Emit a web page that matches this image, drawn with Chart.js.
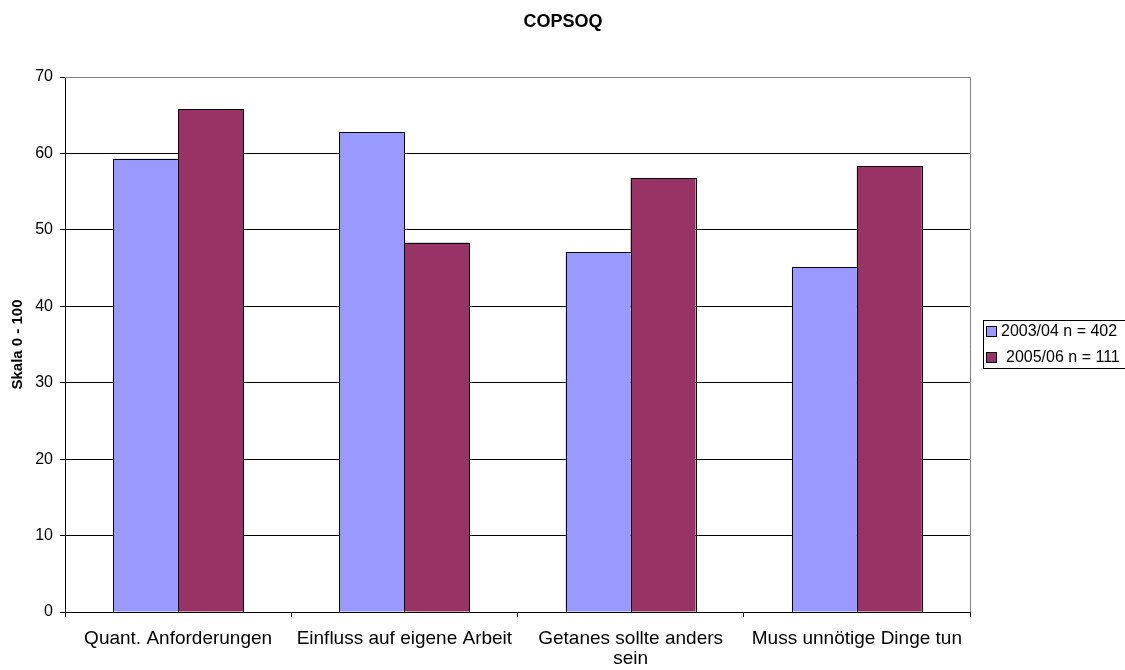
<!DOCTYPE html>
<html>
<head>
<meta charset="utf-8">
<script src="https://cdn.jsdelivr.net/npm/chart.js@4/dist/chart.umd.min.js"></script>
<style>
  html, body { margin: 0; padding: 0; background: #ffffff; }
  #wrap { width: 1125px; height: 670px; position: relative; }
</style>
</head>
<body>
<div id="wrap"><canvas id="c" width="1125" height="670"></canvas></div>
<script>
// COPSOQ scale values (0 - 100) per survey wave
const categories = [
  'Quant. Anforderungen',
  'Einfluss auf eigene Arbeit',
  ['Getanes sollte anders', 'sein'],
  'Muss unnötige Dinge tun'
];
const seriesNames = ['2003/04 n = 402', '2005/06 n = 111'];
const wave2003 = [59.3, 62.8, 47.1, 45.1];
const wave2005 = [65.8, 48.3, 56.8, 58.3];
const yTicks = [0, 10, 20, 30, 40, 50, 60, 70];

const colors = ['#9999FF', '#993366'];
const FONT = 'Arial, "Liberation Sans", sans-serif';

// Title, y-axis caption, plot frame, crisp bar outlines and legend box
const decorations = {
  id: 'decorations',
  beforeDatasetsDraw(chart) {
    const { ctx, chartArea: a } = chart;
    ctx.save();
    ctx.strokeStyle = '#808080';
    ctx.lineWidth = 1;
    ctx.beginPath();
    ctx.moveTo(a.left, a.top + 0.5);
    ctx.lineTo(a.right + 0.5, a.top + 0.5);
    ctx.lineTo(a.right + 0.5, a.bottom);
    ctx.stroke();
    ctx.restore();
  },
  afterDatasetsDraw(chart) {
    const { ctx } = chart;
    ctx.save();
    ctx.strokeStyle = '#000';
    ctx.lineWidth = 1;
    chart.data.datasets.forEach((ds, di) => {
      chart.getDatasetMeta(di).data.forEach(bar => {
        const l = Math.round(bar.x - bar.width / 2) + 0.5;
        const r = Math.round(bar.x + bar.width / 2) + 0.5;
        const t = Math.round(bar.y) + 0.5;
        const b = Math.round(bar.base) + 0.5;
        ctx.strokeRect(l, t, r - l, b - t);
      });
    });
    ctx.restore();
  },
  afterDraw(chart) {
    const { ctx, chartArea: a } = chart;
    ctx.save();
    // title
    ctx.fillStyle = '#000';
    ctx.font = 'bold 18px ' + FONT;
    ctx.textAlign = 'center';
    ctx.textBaseline = 'middle';
    ctx.fillText('COPSOQ', 563, 22);
    // y axis caption
    ctx.save();
    ctx.translate(18, (a.top + a.bottom) / 2);
    ctx.rotate(-Math.PI / 2);
    ctx.font = 'bold 15px ' + FONT;
    ctx.fillText('Skala 0 - 100', 0, 0);
    ctx.restore();
    // legend
    const lx = 983.5, ly = 320.5, lw = 160, lh = 48;
    ctx.strokeStyle = '#000';
    ctx.lineWidth = 1;
    ctx.strokeRect(lx, ly, lw, lh);
    ctx.font = '16px ' + FONT;
    ctx.textAlign = 'left';
    const rows = [331, 357];
    rows.forEach((y, i) => {
      ctx.fillStyle = colors[i];
      ctx.fillRect(986.5, y - 4.5, 10, 10);
      ctx.strokeStyle = '#000';
      ctx.strokeRect(986.5, y - 4.5, 10, 10);
      ctx.fillStyle = '#000';
      ctx.fillText(seriesNames[i], i === 0 ? 1001 : 1006, y + 1);
    });
    ctx.restore();
  }
};

new Chart(document.getElementById('c'), {
  type: 'bar',
  data: {
    labels: categories,
    datasets: [
      { label: seriesNames[0], data: wave2003, backgroundColor: colors[0], borderWidth: 0 },
      { label: seriesNames[1], data: wave2005, backgroundColor: colors[1], borderWidth: 0 }
    ]
  },
  options: {
    responsive: false,
    animation: false,
    devicePixelRatio: 1,
    layout: { padding: { top: 77, right: 155, left: 0, bottom: 0 } },
    plugins: {
      legend: { display: false },
      title: { display: false },
      tooltip: { enabled: false }
    },
    datasets: { bar: { barPercentage: 1, categoryPercentage: 0.574 } },
    scales: {
      x: {
        offset: true,
        grid: {
          offset: true,
          drawOnChartArea: false,
          drawTicks: true,
          tickLength: 5,
          color: '#000'
        },
        border: { color: '#000', width: 1 },
        ticks: {
          color: '#000',
          font: { family: FONT, size: 19, lineHeight: 1.05 },
          padding: 12,
          maxRotation: 0,
          autoSkip: false
        },
        afterFit(scale) { scale.height = 58; }
      },
      y: {
        min: 0,
        max: 70,
        afterBuildTicks(scale) { scale.ticks = yTicks.map(v => ({ value: v })); },
        grid: {
          color: ctx => (ctx.tick && ctx.tick.value === 70) ? '#808080' : '#000',
          tickLength: 5,
          tickColor: '#000'
        },
        border: { color: '#000', width: 1 },
        ticks: {
          color: '#000',
          font: { family: FONT, size: 16 },
          padding: 7
        },
        afterFit(scale) { scale.width = 65; }
      }
    }
  },
  plugins: [decorations]
});
</script>
</body>
</html>
